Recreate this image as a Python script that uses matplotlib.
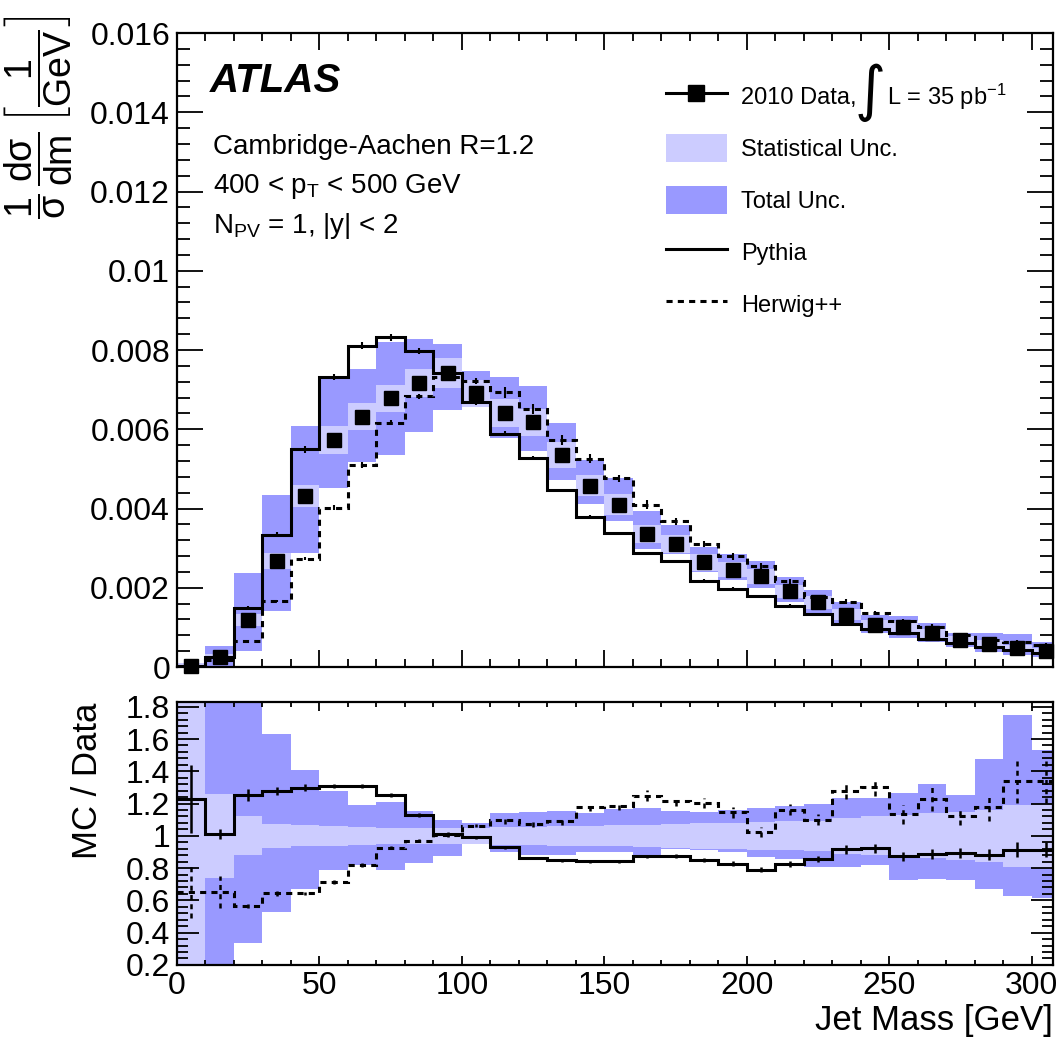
import numpy as np
import matplotlib
matplotlib.use("Agg")
import matplotlib.pyplot as plt
from matplotlib.lines import Line2D
from matplotlib.patches import Patch
from matplotlib.ticker import MultipleLocator, FuncFormatter

plt.rcParams['font.family'] = ['Liberation Sans', 'DejaVu Sans']
plt.rcParams['mathtext.fontset'] = 'custom'
plt.rcParams['mathtext.rm'] = 'Liberation Sans'
plt.rcParams['mathtext.it'] = 'Liberation Sans:italic'
plt.rcParams['mathtext.bf'] = 'Liberation Sans:bold'

# jet mass bins, 10 GeV wide
bin_lo = np.arange(0, 310, 10)
edges = np.append(bin_lo, 310)
centers = bin_lo + 5

# normalised cross section, data
data = [0.00003, 0.00026, 0.00119, 0.00267, 0.00431, 0.00573, 0.00632, 0.00678,
        0.00716, 0.00742, 0.00691, 0.00642, 0.00618, 0.00535, 0.00458, 0.00410,
        0.00336, 0.00311, 0.00264, 0.00246, 0.00229, 0.00191, 0.00163, 0.00132,
        0.00106, 0.00102, 0.00085, 0.00068, 0.00058, 0.00047, 0.00041]
pythia = [0.00002, 0.00025, 0.00149, 0.00334, 0.00549, 0.00732, 0.00811, 0.00832,
          0.00797, 0.00743, 0.00669, 0.00589, 0.00527, 0.00446, 0.00379, 0.00338,
          0.00288, 0.00267, 0.00218, 0.00197, 0.00178, 0.00155, 0.00134, 0.00109,
          0.00095, 0.00085, 0.00070, 0.00060, 0.00051, 0.00043, 0.00035]
herwig = [0.00002, 0.00018, 0.00066, 0.00167, 0.00273, 0.00402, 0.00509, 0.00617,
          0.00683, 0.00731, 0.00722, 0.00693, 0.00652, 0.00573, 0.00526, 0.00476,
          0.00410, 0.00368, 0.00310, 0.00279, 0.00254, 0.00216, 0.00176, 0.00165,
          0.00137, 0.00115, 0.00102, 0.00081, 0.00068, 0.00062, 0.00056]

# relative uncertainties on data
stat_rel = [2.0, 0.26, 0.12, 0.075, 0.065, 0.06, 0.055, 0.05, 0.05, 0.05, 0.05,
            0.055, 0.055, 0.06, 0.06, 0.065, 0.07, 0.075, 0.08, 0.08, 0.085, 0.09,
            0.095, 0.11, 0.12, 0.13, 0.14, 0.15, 0.16, 0.19, 0.20]
tot_up = [2.0, 1.0, 1.0, 0.63, 0.41, 0.275, 0.19, 0.21, 0.156, 0.10, 0.08, 0.14,
          0.146, 0.152, 0.14, 0.166, 0.174, 0.156, 0.146, 0.16, 0.17, 0.183, 0.197,
          0.236, 0.234, 0.265, 0.32, 0.254, 0.478, 0.75, 0.535]
tot_dn = [2.0, 1.0, 0.665, 0.47, 0.33, 0.21, 0.18, 0.21, 0.17, 0.125, 0.05, 0.10,
          0.117, 0.117, 0.10, 0.103, 0.117, 0.08, 0.09, 0.103, 0.131, 0.142, 0.193,
          0.193, 0.183, 0.275, 0.265, 0.275, 0.33, 0.37, 0.388]

# MC / data ratios
pythia_ratio = [1.228, 1.012, 1.252, 1.277, 1.299, 1.307, 1.307, 1.252, 1.131, 1.012,
                0.992, 0.930, 0.863, 0.848, 0.842, 0.842, 0.873, 0.877, 0.852, 0.828,
                0.791, 0.826, 0.858, 0.916, 0.924, 0.873, 0.890, 0.894, 0.883, 0.914, 0.914]
herwig_ratio = [0.653, 0.653, 0.567, 0.643, 0.643, 0.715, 0.817, 0.926, 0.971, 1.006,
                1.063, 1.098, 1.074, 1.090, 1.176, 1.186, 1.250, 1.213, 1.203, 1.146,
                1.023, 1.162, 1.100, 1.277, 1.300, 1.133, 1.228, 1.121, 1.176, 1.340, 1.340]
# MC statistical errors (relative)
pythia_err = [0.17, 0.03, 0.03, 0.02, 0.015, 0.01, 0.01, 0.01, 0.01, 0.01, 0.01, 0.01,
              0.01, 0.01, 0.01, 0.01, 0.01, 0.015, 0.015, 0.02, 0.02, 0.02, 0.02, 0.03,
              0.03, 0.03, 0.035, 0.035, 0.04, 0.05, 0.05]
herwig_err = [0.25, 0.15, 0.02, 0.02, 0.015, 0.015, 0.015, 0.01, 0.01, 0.01, 0.01, 0.02,
              0.02, 0.02, 0.02, 0.02, 0.025, 0.025, 0.025, 0.03, 0.03, 0.03, 0.03, 0.04,
              0.04, 0.05, 0.06, 0.05, 0.07, 0.10, 0.10]

data = np.array(data)
pythia = np.array(pythia)
herwig = np.array(herwig)
stat_rel = np.array(stat_rel)
tot_up = np.array(tot_up)
tot_dn = np.array(tot_dn)
pythia_ratio = np.array(pythia_ratio)
herwig_ratio = np.array(herwig_ratio)
pythia_err = np.array(pythia_err)
herwig_err = np.array(herwig_err)

c_stat = '#ccccff'
c_tot = '#9999ff'
dash = (0, (2.0, 1.7))
lw = 2.2

fig = plt.figure(figsize=(10.58, 10.45), dpi=100)
ax = fig.add_axes([0.1673, 0.3617, 0.828, 0.6067])
axr = fig.add_axes([0.1673, 0.0766, 0.828, 0.2517])

# ---- top panel
ax.bar(bin_lo, data * (tot_up + tot_dn), bottom=data * (1 - tot_dn), width=10,
       align='edge', color=c_tot, linewidth=0)
ax.bar(bin_lo, data * 2 * stat_rel, bottom=data * (1 - stat_rel), width=10,
       align='edge', color=c_stat, linewidth=0)
ax.stairs(pythia, edges, baseline=None, color='k', linewidth=lw)
ax.errorbar(centers, pythia, yerr=pythia * pythia_err, fmt='none', ecolor='k', elinewidth=1.5)
ax.stairs(herwig, edges, baseline=None, color='k', linewidth=lw, linestyle=dash)
ax.errorbar(centers, herwig, yerr=herwig * herwig_err, fmt='none', ecolor='k', elinewidth=1.5)
ax.plot(centers, data, 's', color='k', markersize=10.5, zorder=5, clip_on=False)

ax.set_xlim(0, 307.5)
ax.set_ylim(0, 0.016)
ax.yaxis.set_major_locator(MultipleLocator(0.002))
ax.yaxis.set_minor_locator(MultipleLocator(0.0004))
ax.xaxis.set_major_locator(MultipleLocator(50))
ax.xaxis.set_minor_locator(MultipleLocator(10))
ax.yaxis.set_major_formatter(FuncFormatter(lambda v, p: '{:g}'.format(round(v, 6))))
ax.tick_params(axis='both', which='both', direction='in', top=True, right=True, width=1.3)
ax.tick_params(axis='y', which='major', length=19, labelsize=23, pad=5)
ax.tick_params(axis='y', which='minor', length=9.5)
ax.tick_params(axis='x', which='major', length=12)
ax.tick_params(axis='x', which='minor', length=6)
ax.tick_params(axis='x', labelbottom=False)
for s in ax.spines.values():
    s.set_linewidth(1.6)

ax.text(0.038, 0.925, 'ATLAS', transform=ax.transAxes, fontsize=29,
        fontweight='bold', fontstyle='italic', va='center', ha='left')
ax.text(0.041, 0.820, 'Cambridge-Aachen R=1.2', transform=ax.transAxes,
        fontsize=20, va='center', ha='left')
ax.text(0.041, 0.758, r'400 < p$_{\mathrm{T}}$ < 500 GeV', transform=ax.transAxes,
        fontsize=20, va='center', ha='left')
ax.text(0.041, 0.695, r'N$_{\mathrm{PV}}$ = 1, |y| < 2', transform=ax.transAxes,
        fontsize=20, va='center', ha='left')

handles = [
    Line2D([], [], color='k', linewidth=lw, marker='s', markersize=11),
    Patch(facecolor=c_stat, edgecolor='none'),
    Patch(facecolor=c_tot, edgecolor='none'),
    Line2D([], [], color='k', linewidth=lw),
    Line2D([], [], color='k', linewidth=lw, linestyle=dash),
]
labels = ['2010 Data,', 'Statistical Unc.', 'Total Unc.', 'Pythia', 'Herwig++']
ax.legend(handles, labels, loc='upper left', bbox_to_anchor=(0.558, 0.922),
          frameon=False, fontsize=17, handlelength=2.58, handleheight=1.44,
          labelspacing=1.02, handletextpad=0.6, borderpad=0, borderaxespad=0)
# big integral sign and luminosity next to the first legend entry
ax.text(0.7915, 0.906, '\u222b', transform=ax.transAxes, fontsize=43,
        family='DejaVu Sans', va='center', ha='center')
ax.text(0.811, 0.899, r'L = 35 pb$^{-1}$', transform=ax.transAxes, fontsize=17,
        va='center', ha='left')

fig.text(0.036, 0.985,
         r'$\dfrac{1}{\mathrm{\sigma}}\,\dfrac{\mathrm{d\sigma}}{\mathrm{dm}}\,'
         r'\left[\dfrac{1}{\mathrm{GeV}}\right]$',
         rotation=90, fontsize=27, ha='center', va='top')

# ---- ratio panel
axr.bar(bin_lo, tot_up + tot_dn, bottom=1 - tot_dn, width=10, align='edge',
        color=c_tot, linewidth=0)
axr.bar(bin_lo, 2 * stat_rel, bottom=1 - stat_rel, width=10, align='edge',
        color=c_stat, linewidth=0)
axr.stairs(pythia_ratio, edges, baseline=None, color='k', linewidth=lw)
axr.errorbar(centers, pythia_ratio, yerr=pythia_ratio * pythia_err, fmt='none',
             ecolor='k', elinewidth=1.8)
axr.stairs(herwig_ratio, edges, baseline=None, color='k', linewidth=lw, linestyle=dash)
eb = axr.errorbar(centers, herwig_ratio, yerr=herwig_ratio * herwig_err, fmt='none',
                  ecolor='k', elinewidth=1.8)
eb[2][0].set_linestyle(dash)

axr.set_xlim(0, 307.5)
axr.set_ylim(0.2, 1.83)
axr.yaxis.set_major_locator(MultipleLocator(0.2))
axr.yaxis.set_minor_locator(MultipleLocator(0.04))
axr.xaxis.set_major_locator(MultipleLocator(50))
axr.xaxis.set_minor_locator(MultipleLocator(10))
axr.yaxis.set_major_formatter(FuncFormatter(lambda v, p: '{:g}'.format(round(v, 3))))
axr.tick_params(axis='both', which='both', direction='in', top=True, right=True, width=1.3)
axr.tick_params(axis='y', which='major', length=16, labelsize=23, pad=5)
axr.tick_params(axis='y', which='minor', length=8)
axr.tick_params(axis='x', which='major', length=6.5, labelsize=23, pad=4)
axr.tick_params(axis='x', which='minor', length=3.6)
for s in axr.spines.values():
    s.set_linewidth(1.6)

fig.text(0.083, 0.328, 'MC / Data', rotation=90, fontsize=25, ha='center', va='top')
fig.text(0.9953, 0.0235, 'Jet Mass [GeV]', fontsize=25, ha='right', va='center')

fig.savefig('out.png', dpi=100)
